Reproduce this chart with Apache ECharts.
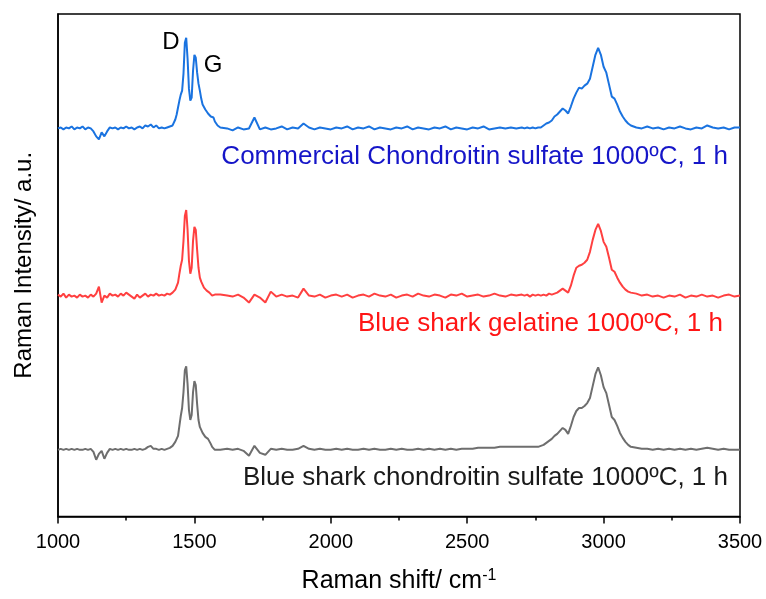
<!DOCTYPE html>
<html><head><meta charset="utf-8">
<script src="https://cdn.jsdelivr.net/npm/echarts@6/dist/echarts.min.js"></script>
<style>html,body{margin:0;padding:0;background:#fff}#c{width:766px;height:599px}</style>
</head><body><div id="c"></div>
<script>
// Raman shift (cm-1)
const shift = [
1000,1010,1020,1030,1040,1050,1060,1070,1080,1090,1100,1110,1120,1130,1140,1150,1160,1170,1180,1190,1200,1210,1220,1230,1240,1250,1260,1270,1280,1290,1300,1310,1320,1330,1340,1350,1360,1370,1380,1390,1400,
1405,1410,1415,1420,1425,1430,1435,1440,1445,1450,1455,1460,1465,1470,1475,1480,1485,1490,1495,1500,1505,1510,1515,1520,1525,1530,1535,1540,1545,1550,1555,1560,1565,1570,1575,1580,1585,1590,1595,1600,
1620,1640,1660,1680,1700,1720,1740,1760,1780,1800,1820,1840,1860,1880,1900,1920,1940,1960,1980,2000,2020,2040,2060,2080,2100,2120,2140,2160,2180,2200,2220,2240,2260,2280,2300,2320,2340,2360,2380,2400,2420,2440,2460,2480,2500,2520,2540,2560,2580,2600,2620,2640,2660,2680,2700,
2710,2720,2730,2740,2750,2760,2770,2780,2790,2800,2810,2820,2830,2840,2850,2860,2870,2880,2890,2900,2910,2920,2930,2940,2950,2960,2970,2980,2990,3000,3010,3020,3030,3040,3050,3060,3070,3080,3090,3100,
3120,3140,3160,3180,3200,3220,3240,3260,3280,3300,3320,3340,3360,3380,3400,3420,3440,3460,3480,3500];

// Intensities relative to each spectrum's own baseline (a.u.)
const commercialCS = [
0,1,-1,1,0,2,-1,1,0,2,-1,1,0,-3,-8,-11,-4,-8,-3,1,0,1,-1,1,0,2,0,1,-1,1,2,0,3,2,4,1,3,0,1,0,1,
1,2,1,3,5,9,14,21,28,34,38,55,86,91,70,40,28,31,58,74,71,56,45,38,30,24,22,19,18,15,13,12,13,11,7,5,3,2,1,2,
0,-2,1,-1,0,11,-1,1,-1,0,2,-1,1,0,5,1,-1,1,0,-1,1,0,2,-1,1,0,2,-1,1,0,-1,1,0,2,-1,1,0,-1,1,0,2,-1,1,0,-1,1,0,2,-1,0,1,0,1,0,1,
0,1,0,1,0,1,1,3,5,6,8,12,14,17,20,18,15,22,30,36,41,40,43,45,50,62,74,81,74,62,56,44,32,30,24,17,12,8,5,3,
1,0,2,0,1,-1,1,0,2,0,-1,1,0,3,1,0,1,-1,1,1];

const sharkGelatine = [
1,-1,2,-2,1,-1,0,-2,1,-1,0,-2,1,-1,2,9,-7,0,-2,2,0,1,-1,2,0,3,1,-1,-3,1,-2,0,2,-1,1,0,2,0,1,0,2,
1,1,2,3,4,6,8,13,22,30,36,55,80,86,66,35,22,28,55,69,66,46,28,18,14,11,8,7,5,6,3,2,0,2,1,0,1,0,1,-1,
0,-1,1,-2,-7,1,-2,-7,4,-1,1,-1,0,-2,7,0,-1,1,-2,0,1,-1,1,-2,0,1,-1,2,0,-1,1,-2,0,1,-1,2,0,-1,1,0,-2,1,0,2,-1,0,1,-1,0,2,0,-1,1,0,1,
0,1,-1,1,0,1,0,1,0,2,1,2,3,5,7,5,3,10,20,28,30,31,33,36,44,56,66,72,65,54,49,38,26,24,18,13,9,6,4,3,
2,0,1,-1,0,-2,0,-1,1,-2,0,-1,1,-1,0,-2,0,1,-1,0];

const sharkCS = [
0,1,0,1,0,1,0,1,0,0,1,0,1,-2,-10,-4,-1,-9,-3,1,0,1,0,1,0,1,0,0,1,0,1,0,1,3,4,1,1,0,1,0,1,
1,2,3,4,6,8,10,14,24,34,42,58,80,84,66,40,30,35,58,69,65,46,30,23,20,17,15,13,12,11,10,6,3,1,0,-1,0,1,0,1,
1,0,1,-1,-6,4,-3,-5,1,0,1,0,0,1,4,1,0,1,0,0,1,0,1,0,0,1,0,1,0,0,1,0,1,0,0,1,0,1,0,1,0,1,0,1,1,1,2,2,2,2,3,3,3,3,3,
3,3,3,3,3,3,4,5,7,9,11,14,16,19,22,20,16,24,33,39,42,42,44,47,52,64,76,83,75,63,57,45,33,30,24,17,12,8,5,3,
2,1,1,0,1,0,1,0,1,0,1,0,1,2,1,0,1,0,0,0];

const offsets = [390, 222, 67];
const seriesNames = ['Commercial Chondroitin sulfate 1000ºC, 1 h', 'Blue shark gelatine 1000ºC, 1 h', 'Blue shark chondroitin sulfate 1000ºC, 1 h'];
const lineColors = ['#1a73e0', '#ff4040', '#6e6e6e'];
const labelColors = ['#1515c8', '#ff1515', '#1a1a1a'];
const xTicks = [1000, 1500, 2000, 2500, 3000, 3500];

const spectra = [commercialCS, sharkGelatine, sharkCS];
const chart = echarts.init(document.getElementById('c'));
const series = spectra.map((s, i) => ({
  type: 'line', name: seriesNames[i], showSymbol: false, symbol: 'none',
  data: shift.map((x, j) => [x, s[j] + offsets[i]]),
  lineStyle: { color: lineColors[i], width: 2 }, itemStyle: { color: lineColors[i] },
  animation: false, silent: true
}));

const font = 'Arial, "Liberation Sans", sans-serif';
chart.setOption({
  backgroundColor: '#fff',
  animation: false,
  grid: { left: 58, right: 26, top: 14, bottom: 80, show: true, borderColor: '#000', borderWidth: 1.5, backgroundColor: 'transparent' },
  xAxis: {
    type: 'value', min: xTicks[0], max: xTicks[xTicks.length - 1], interval: 500,
    name: '{a|Raman shift/ cm}{s|-1}', nameLocation: 'middle', nameGap: 51,
    nameTextStyle: { rich: { a: { fontSize: 25, fontFamily: font, color: '#000' }, s: { fontSize: 16, fontFamily: font, color: '#000', verticalAlign: 'top', padding: [0, 0, 12, 0] } } },
    axisLine: { lineStyle: { color: '#000', width: 1.5 } },
    axisTick: { show: true, length: 7, lineStyle: { color: '#000', width: 1.5 } },
    minorTick: { show: true, splitNumber: 2, length: 4, lineStyle: { color: '#000', width: 1.5 } },
    axisLabel: { fontSize: 20, fontFamily: font, color: '#000', margin: 16, formatter: v => String(v) },
    splitLine: { show: false }
  },
  yAxis: {
    type: 'value', min: 0, max: 505,
    name: 'Raman Intensity/ a.u.', nameLocation: 'middle', nameGap: 22, nameRotate: 90,
    nameTextStyle: { fontSize: 24, fontFamily: font, color: '#000' },
    axisLine: { show: true, lineStyle: { color: '#000', width: 1.5 } },
    axisTick: { show: false }, axisLabel: { show: false }, splitLine: { show: false }
  },
  series: series,
  graphic: [
    { type: 'text', x: 728, y: 157, style: { text: seriesNames[0], fill: labelColors[0], font: '26px ' + font, textAlign: 'right', textVerticalAlign: 'middle' } },
    { type: 'text', x: 723, y: 324, style: { text: seriesNames[1], fill: labelColors[1], font: '26px ' + font, textAlign: 'right', textVerticalAlign: 'middle' } },
    { type: 'text', x: 728, y: 478, style: { text: seriesNames[2], fill: labelColors[2], font: '26px ' + font, textAlign: 'right', textVerticalAlign: 'middle' } },
    { type: 'text', x: 171, y: 42, style: { text: 'D', fill: '#000', font: '24px ' + font, textAlign: 'center', textVerticalAlign: 'middle' } },
    { type: 'text', x: 213, y: 65, style: { text: 'G', fill: '#000', font: '24px ' + font, textAlign: 'center', textVerticalAlign: 'middle' } }
  ]
});
</script></body></html>
